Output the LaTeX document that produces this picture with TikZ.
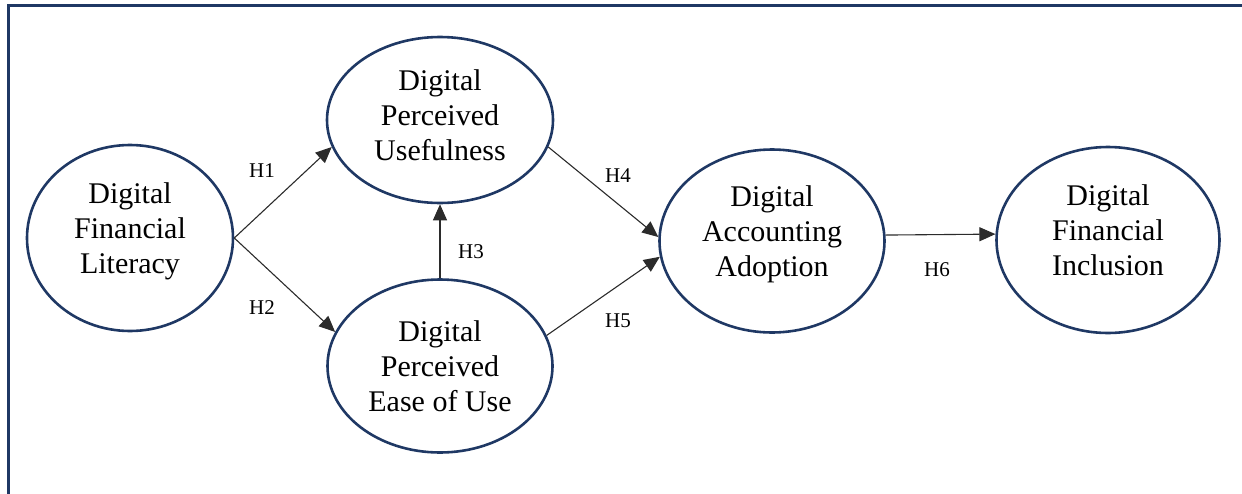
\documentclass[tikz,border=0pt]{standalone}
\usepackage{fontspec}
\setmainfont{Liberation Serif}
\usetikzlibrary{shapes.geometric,arrows.meta}
\definecolor{navy}{HTML}{1F3864}
\definecolor{linkgray}{HTML}{2B2B2B}
\begin{document}
\begin{tikzpicture}[x=1pt,y=-1pt,
  construct/.style={ellipse,draw=navy,line width=2.6pt,inner sep=0pt,
    align=center,font=\fontsize{30}{35}\selectfont},
  % a strut on the last line evens out the text block's depth
  lastdepth/.style={execute at end node={\rule[-#1]{0pt}{#1}}},
  link/.style={draw=linkgray,line width=1.1pt,
    -{Triangle[length=16pt,width=14pt]}},
  hyp/.style={font=\fontsize{21}{24}\selectfont,inner sep=0pt},
  frame/.style={draw=navy,line width=3pt}]
\useasboundingbox (0,0) rectangle (1242,493);
% outer frame (top and left edges)
\draw[frame] (1250,5) -- (8.3,5) -- (8.3,500);

% constructs
\node[construct,lastdepth=20pt,minimum width=206pt,minimum height=186pt] (dfl) at (130,238)
  {Digital\\Financial\\Literacy};
\node[construct,lastdepth=10pt,minimum width=226pt,minimum height=166pt] (dpu) at (440,120)
  {Digital\\Perceived\\Usefulness};
\node[construct,minimum width=225pt,minimum height=173pt] (dpeu) at (440,366)
  {Digital\\Perceived\\Ease of Use};
\node[construct,lastdepth=20pt,minimum width=225pt,minimum height=183pt] (daa) at (772,241)
  {Digital\\Accounting\\Adoption};
\node[construct,lastdepth=20pt,minimum width=223pt,minimum height=186pt] (dfi) at (1108,240)
  {Digital\\Financial\\Inclusion};

% hypothesised paths
\draw[link] (dfl.east) -- (dpu.194.7);
\draw[link] (dfl.east) -- (dpeu.162.6);
\draw[link] (dpeu.north) -- (dpu.south);
\draw[link] (dpu.346.8) -- (daa.178);
\draw[link] (dpeu.16.6) -- (daa.188.6);
\draw[link] (daa.3) -- (dfi.177.4);

% path labels
\node[hyp] (h1) at (262,171) {H1};
\node[hyp] (h2) at (262,308) {H2};
\node[hyp] (h3) at (471,252) {H3};
\node[hyp] (h4) at (618,176) {H4};
\node[hyp] (h5) at (618,321) {H5};
\node[hyp] (h6) at (937,270) {H6};
\end{tikzpicture}
\end{document}
